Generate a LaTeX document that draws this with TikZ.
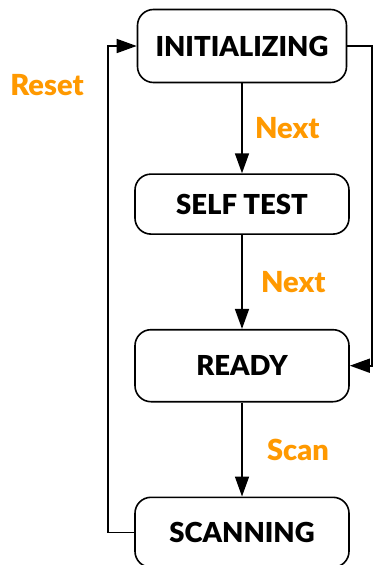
\documentclass[tikz,border=0pt]{standalone}
\usepackage{fontspec}
\setmainfont{Lato}[BoldFont={Lato Black}]
\definecolor{TransOrange}{HTML}{FF9900}
\usepackage{tikz}
\usetikzlibrary{positioning,arrows.meta}

\begin{document}
\begin{tikzpicture}[x=1pt,y=1pt,
        state/.style={draw, line width=1.6pt, rounded corners=16pt, minimum width=214pt, minimum height=71pt, font=\bfseries\fontsize{27.5}{31}\selectfont},
        trans/.style={text=TransOrange, font=\bfseries\fontsize{29}{33}\selectfont},
        link/.style={line width=1.6pt, -{Triangle[length=20pt,width=14pt]}}]
        \useasboundingbox (0,0) rectangle (375,-565);

        \node[state, minimum width=209pt, minimum height=73pt] (init) at (242,-46) {INITIALIZING};
        \node[state, minimum height=60pt, below=90pt of init] (selftest) {SELF TEST};
        \node[state, minimum height=72pt, below=94pt of selftest] (ready) {READY};
        \node[state, minimum height=70pt, below=94pt of ready] (scanning) {SCANNING};

        \coordinate (rightrail) at (372,0);
        \coordinate (leftrail) at (108,0);

        \draw[link] (init) -- node[trans, right=9pt] (next1) {Next} (selftest);
        \draw[link] (selftest) -- node[trans, right=15pt] (next2) {Next} (ready);
        \draw[link] (ready) -- node[trans, right=21pt] (scan) {Scan} (scanning);
        \draw[link] (init.east) -- (init.east -| rightrail) |- (ready.east);
        \draw[link] (scanning.west) -- (scanning.west -| leftrail) |- (init.west);
        \node[trans] (reset) at (47,-85) {Reset};
    \end{tikzpicture}
\end{document}
